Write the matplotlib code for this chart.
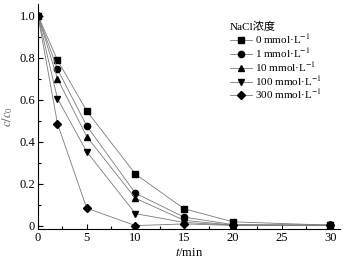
import numpy as np
import matplotlib
matplotlib.use("Agg")
import matplotlib.pyplot as plt
from matplotlib.ticker import MultipleLocator

plt.rcParams['font.family'] = ['Liberation Serif', 'Noto Sans CJK SC']
plt.rcParams['mathtext.fontset'] = 'stix'

# ----- Data -----
t = [0, 2, 5, 10, 15, 20, 30]
c_0mM = [1.0, 0.788, 0.546, 0.245, 0.080, 0.018, 0.002]
c_1mM = [1.0, 0.745, 0.475, 0.154, 0.040, 0.005, 0.002]
c_10mM = [1.0, 0.700, 0.424, 0.130, 0.025, 0.002, 0.002]
c_100mM = [1.0, 0.605, 0.352, 0.057, 0.015, 0.002, 0.002]
c_300mM = [1.0, 0.486, 0.083, 0.000, 0.008, 0.001, 0.002]

series = [c_0mM, c_1mM, c_10mM, c_100mM, c_300mM]
labels = ["0 mmol·L$^{-1}$", "1 mmol·L$^{-1}$", "10 mmol·L$^{-1}$",
          "100 mmol·L$^{-1}$", "300 mmol·L$^{-1}$"]
markers = ['s', 'o', '^', 'v', 'D']
msizes = [4.0, 4.5, 4.5, 4.5, 3.8]

fig = plt.figure(figsize=(3.45, 2.65), dpi=100)
ax = fig.add_axes([0.110, 0.136, 0.876, 0.849])

for y, lab, m, ms in zip(series, labels, markers, msizes):
    ax.plot(t, y, color='#7a7a7a', lw=0.6, marker=m, ms=ms,
            mfc='black', mec='black', label=lab)

ax.set_xlim(0, 31)
ax.set_ylim(-0.016, 1.055)
ax.xaxis.set_major_locator(MultipleLocator(5))
ax.xaxis.set_minor_locator(MultipleLocator(2.5))
ax.yaxis.set_minor_locator(MultipleLocator(0.1))
ax.set_yticks([0, 0.2, 0.4, 0.6, 0.8, 1.0])
ax.set_yticklabels(['0', '0.2', '0.4', '0.6', '0.8', '1.0'])
ax.tick_params(which='both', direction='in', labelsize=9, width=0.8, pad=2)
ax.tick_params(which='major', length=3.5)
ax.tick_params(which='minor', length=2)
ax.spines['top'].set_visible(False)
ax.spines['right'].set_visible(False)

ax.set_xlabel('$t$/min', fontsize=9, labelpad=2)
ax.set_ylabel('$c/c_0$', fontsize=9, labelpad=3, color='#555555')

leg = ax.legend(title='NaCl浓度', loc='upper left', bbox_to_anchor=(0.62, 0.94),
                frameon=False, fontsize=8, title_fontsize=8,
                handlelength=2.0, handletextpad=0.3, labelspacing=0.0,
                borderaxespad=0)
leg._legend_box.align = 'left'

fig.savefig('out.png', dpi=100)
